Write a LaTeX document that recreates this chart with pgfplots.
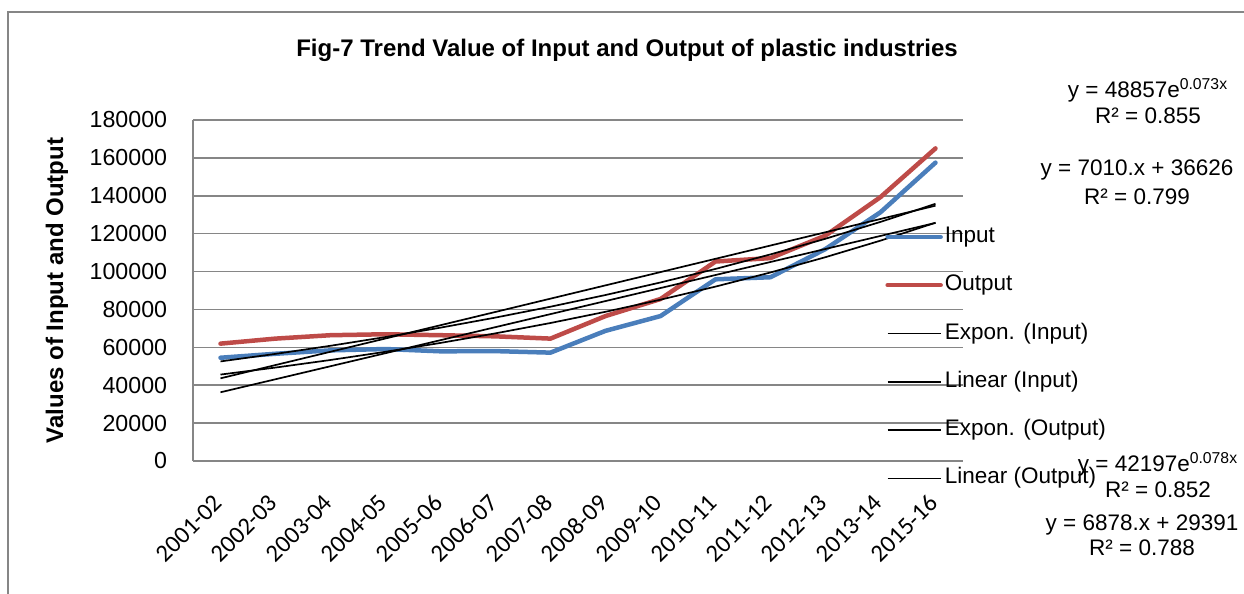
\documentclass[border=0pt]{standalone}
\usepackage{pgfplots}
\pgfplotsset{compat=1.18}
\usepackage{fontspec}
\setmainfont{Liberation Sans}
\newfontfamily\calibri{Carlito}
\definecolor{inblue}{RGB}{74,126,187}
\definecolor{outred}{RGB}{190,75,72}
\definecolor{gridgray}{RGB}{134,134,134}

\begin{document}
\fontsize{11.25pt}{13.5pt}\selectfont
\begin{tikzpicture}
\begin{axis}[
    at={(96.5pt,66.5pt)}, anchor=south west,
    scale only axis,
    width=385pt, height=170.5pt,
    xmin=0.5, xmax=14.5,
    ymin=0, ymax=180000,
    xtick={1,2,...,14},
    xticklabels={2001-02,2002-03,2003-04,2004-05,2005-06,2006-07,2007-08,
                 2008-09,2009-10,2010-11,2011-12,2012-13,2013-14,2015-16},
    xticklabel style={font=\calibri\fontsize{12.3pt}{14pt}\selectfont,
                      xshift=-1pt, yshift=-19pt, rotate=45, anchor=east, inner sep=0pt},
    ytick={0,20000,...,180000},
    scaled y ticks=false,
    yticklabel={\pgfmathprintnumber[assume math mode=true,fixed,1000 sep={}]{\tick}},
    yticklabel style={xshift=-9pt, font=\fontsize{11.6pt}{13.5pt}\selectfont},
    major tick length=0pt,
    ymajorgrids,
    grid style={gridgray, line width=0.75pt},
    axis x line*=bottom, axis y line*=left,
    axis line style={-, draw=gridgray, line width=0.75pt},
    ylabel={\bfseries Values of Input and Output},
    ylabel style={at={(axis description cs:-0.1766,0.5)}, anchor=center,
                  font=\fontsize{12pt}{14pt}\selectfont},
    legend image code/.code={\draw[#1] (0pt,0pt) -- (26.5pt,0pt);},
    legend cell align=left,
    legend style={at={(axis description cs:0.8987,0.695)}, anchor=north west,
                  draw=none, fill=none, inner sep=0pt, column sep=0pt, row sep=11.65pt,
                  nodes={inner sep=1pt, text height=8pt, text depth=2.5pt},
                  font=\fontsize{11.25pt}{13.5pt}\selectfont},
    clip=false,
]
\addplot[inblue, line width=2.25pt, line cap=round, line join=round] coordinates {
  (1,54500) (2,56600) (3,58400) (4,59100) (5,57900) (6,58000) (7,57200)
  (8,68700) (9,76500) (10,95900) (11,97000) (12,111900) (13,131300) (14,157500)};
\addlegendentry{Input}
\addplot[outred, line width=2.25pt, line cap=round, line join=round] coordinates {
  (1,61950) (2,64600) (3,66400) (4,66900) (5,66400) (6,65800) (7,64600)
  (8,76500) (9,85500) (10,105300) (11,107100) (12,119000) (13,139300) (14,165000)};
\addlegendentry{Output}
% trend lines: y = 42197e^{0.078x}
\addplot[black, line width=0.85pt] coordinates {
  (1,45620) (2,49321) (3,53321) (4,57647) (5,62324) (6,67381) (7,72845)
  (8,78757) (9,85144) (10,92051) (11,99519) (12,107593) (13,116321) (14,125757)};
\addlegendentry{Expon. (Input)}
% y = 6878.x + 29391
\addplot[black, line width=0.85pt] coordinates {(1,36269) (14,125683)};
\addlegendentry{Linear (Input)}
% y = 48857e^{0.073x}
\addplot[black, line width=0.85pt] coordinates {
  (1,52557) (2,56537) (3,60819) (4,65425) (5,70380) (6,75710) (7,81444)
  (8,87612) (9,94246) (10,101383) (11,109061) (12,117320) (13,126205) (14,135763)};
\addlegendentry{Expon. (Output)}
% y = 7010.x + 36626
\addplot[black, line width=0.85pt] coordinates {(1,43636) (14,134766)};
\addlegendentry{Linear (Output)}
\end{axis}

\draw[gridgray, line width=0.75pt] (4pt,0pt) -- (4pt,291pt) -- (622pt,291pt);
\node[font=\bfseries\fontsize{12pt}{14pt}\selectfont] at (313.5pt,272pt)
  {Fig-7 Trend Value of Input and Output of plastic industries};

\node at (574pt,252pt) {y = 48857e\textsuperscript{0.073x}};
\node at (574pt,239pt) {R² = 0.855};
\node at (568.5pt,212pt) {y = 7010.x + 36626};
\node at (568.5pt,198.5pt) {R² = 0.799};
\node at (579pt,65pt) {y = 42197e\textsuperscript{0.078x}};
\node at (579pt,52pt) {R² = 0.852};
\node at (571pt,34.5pt) {y = 6878.x + 29391};
\node at (571pt,23pt) {R² = 0.788};

\pgfresetboundingbox
\useasboundingbox (0pt,0pt) rectangle (622pt,297pt);
\end{tikzpicture}
\end{document}
